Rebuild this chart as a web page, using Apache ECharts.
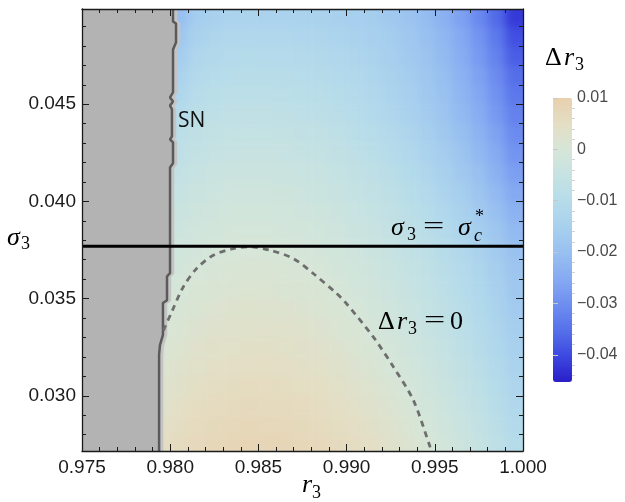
<!DOCTYPE html>
<html><head><meta charset="utf-8">
<script src="https://cdn.jsdelivr.net/npm/echarts@6/dist/echarts.min.js"></script>
<style>
html,body{margin:0;padding:0;background:#fff;}
#wrap{position:relative;width:625px;height:502px;}
#clipbox{position:absolute;left:82px;top:9px;width:441px;height:442px;overflow:hidden;}
#heat{position:absolute;left:-82px;top:-9px;width:625px;height:502px;filter:blur(5px);}
#c{position:absolute;left:0;top:0;width:625px;height:502px;}
</style>
</head><body><div id="wrap"><div id="clipbox"><div id="heat"></div></div><div id="c"></div></div>
<script>
// ---- data ----
const r3Centers = [0.9795,0.9805,0.9815,0.9825,0.9835,0.9845,0.9855,0.9865,0.9875,0.9885,0.9895,0.9905,0.9915,0.9925,0.9935,0.9945,0.9955,0.9965,0.9975,0.9985,0.9995];
const sigmaCenters = [0.0275,0.0285,0.0295,0.0305,0.0315,0.0325,0.0335,0.0345,0.0355,0.0365,0.0375,0.0385,0.0395,0.0405,0.0415,0.0425,0.0435,0.0445,0.0455,0.0465,0.0475,0.0485,0.0495];
// Δr3 in units of 1e-3, one row per sigmaCenters entry, columns follow r3Centers
const deltaMilli = [
[4.9,6.1,7.0,7.6,8.0,8.2,8.1,7.9,7.5,7.0,6.3,5.5,4.5,3.3,2.0,0.4,-1.3,-3.2,-5.3,-7.6,-10.1],
[4.1,5.3,6.2,6.8,7.2,7.4,7.3,7.1,6.7,6.2,5.5,4.7,3.7,2.5,1.1,-0.4,-2.1,-4.0,-6.1,-8.5,-11.1],
[3.3,4.5,5.4,6.0,6.4,6.6,6.5,6.3,5.9,5.4,4.7,3.8,2.8,1.7,0.3,-1.2,-2.9,-4.9,-7.0,-9.4,-12.0],
[2.5,3.7,4.6,5.2,5.6,5.8,5.7,5.5,5.1,4.6,3.9,3.0,2.0,0.9,-0.5,-2.1,-3.8,-5.7,-7.9,-10.3,-13.0],
[1.7,2.9,3.8,4.4,4.8,5.0,4.9,4.7,4.3,3.8,3.1,2.2,1.2,0.0,-1.3,-2.9,-4.6,-6.6,-8.8,-11.2,-13.9],
[0.9,2.1,3.0,3.6,4.0,4.2,4.1,3.9,3.5,3.0,2.3,1.4,0.4,-0.8,-2.1,-3.7,-5.5,-7.5,-9.7,-12.1,-14.9],
[0.1,1.3,2.2,2.8,3.2,3.4,3.3,3.1,2.7,2.2,1.5,0.6,-0.4,-1.6,-3.0,-4.5,-6.3,-8.3,-10.6,-13.1,-15.8],
[-0.7,0.5,1.4,2.0,2.4,2.6,2.5,2.3,1.9,1.4,0.7,-0.2,-1.2,-2.4,-3.8,-5.4,-7.2,-9.2,-11.5,-14.0,-16.8],
[-1.5,-0.3,0.6,1.2,1.6,1.8,1.7,1.5,1.1,0.6,-0.1,-1.0,-2.0,-3.2,-4.6,-6.2,-8.0,-10.1,-12.3,-14.9,-17.7],
[-2.3,-1.1,-0.2,0.4,0.8,1.0,0.9,0.7,0.3,-0.2,-0.9,-1.8,-2.8,-4.0,-5.4,-7.0,-8.9,-10.9,-13.2,-15.8,-18.7],
[-3.1,-1.9,-1.0,-0.4,0.0,0.2,0.1,-0.1,-0.5,-1.0,-1.7,-2.6,-3.6,-4.8,-6.2,-7.9,-9.7,-11.8,-14.1,-16.7,-19.6],
[-4.2,-2.9,-1.9,-1.2,-0.8,-0.7,-0.7,-1.0,-1.4,-1.9,-2.6,-3.5,-4.6,-5.8,-7.3,-9.0,-11.0,-13.2,-15.7,-18.4,-21.6],
[-5.2,-3.8,-2.8,-2.1,-1.7,-1.5,-1.6,-1.9,-2.2,-2.8,-3.5,-4.4,-5.5,-6.8,-8.4,-10.1,-12.2,-14.5,-17.1,-20.1,-23.4],
[-6.4,-4.9,-3.8,-3.1,-2.6,-2.5,-2.6,-2.8,-3.2,-3.8,-4.5,-5.4,-6.6,-7.9,-9.5,-11.3,-13.5,-15.9,-18.7,-21.8,-25.3],
[-7.7,-6.1,-4.9,-4.1,-3.6,-3.5,-3.6,-3.8,-4.2,-4.8,-5.5,-6.5,-7.6,-9.0,-10.7,-12.6,-14.8,-17.3,-20.2,-23.5,-27.2],
[-9.0,-7.3,-6.0,-5.2,-4.7,-4.5,-4.6,-4.9,-5.3,-5.8,-6.6,-7.6,-8.8,-10.2,-11.9,-13.8,-16.1,-18.7,-21.8,-25.2,-29.1],
[-10.4,-8.6,-7.2,-6.3,-5.8,-5.7,-5.7,-6.0,-6.4,-7.0,-7.7,-8.7,-9.9,-11.3,-13.1,-15.1,-17.4,-20.1,-23.2,-26.7,-30.7],
[-12.0,-10.0,-8.5,-7.5,-7.0,-6.8,-6.9,-7.2,-7.6,-8.2,-8.9,-9.9,-11.1,-12.6,-14.3,-16.3,-18.7,-21.5,-24.6,-28.3,-32.4],
[-18.0,-12.5,-9.8,-8.8,-8.2,-8.1,-8.1,-8.4,-8.7,-9.3,-10.0,-10.9,-12.1,-13.5,-15.2,-17.2,-19.6,-22.4,-25.7,-29.5,-33.9],
[-21.0,-14.0,-11.2,-10.1,-9.5,-9.4,-9.4,-9.6,-9.9,-10.4,-11.1,-11.9,-13.0,-14.3,-16.0,-18.0,-20.4,-23.3,-26.7,-30.7,-35.5],
[-24.0,-16.0,-12.7,-11.5,-10.9,-10.7,-10.8,-10.9,-11.2,-11.6,-12.2,-13.0,-14.0,-15.3,-16.9,-18.9,-21.4,-24.4,-28.1,-32.4,-37.6],
[-27.0,-18.0,-14.3,-13.0,-12.3,-12.1,-12.2,-12.3,-12.5,-12.9,-13.4,-14.1,-15.0,-16.2,-17.8,-19.7,-22.2,-25.4,-29.2,-33.8,-39.4],
[-30.0,-20.5,-16.0,-14.6,-13.8,-13.6,-13.7,-13.8,-13.9,-14.2,-14.6,-15.3,-16.1,-17.3,-18.9,-20.9,-23.5,-26.8,-31.0,-36.0,-42.1]
];
const r3Range = [0.975, 1.0];
const sigmaRange = [0.02716, 0.0499];
const deltaRange = [-0.0453, 0.01];
const sigmaTicks = [0.030, 0.035, 0.040, 0.045];
const sigmaMinorTicks = [0.028,0.029,0.031,0.032,0.033,0.034,0.036,0.037,0.038,0.039,0.041,0.042,0.043,0.044,0.046,0.047,0.048,0.049];
const colorTicks = [0.01, 0, -0.01, -0.02, -0.03, -0.04];
const colorMinorTicks = [0.008,0.006,0.004,0.002,-0.002,-0.004,-0.006,-0.008,-0.012,-0.014,-0.016,-0.018,-0.022,-0.024,-0.026,-0.028,-0.032,-0.034,-0.036,-0.038,-0.042,-0.044];
// saddle-node boundary
const snR = [0.98016,0.98016,0.98033,0.98033,0.98016,0.98016,0.98016,0.97999,0.98016,0.97999,0.98010,0.98010,0.97999,0.98016,0.98016,0.97999,0.97999,0.97982,0.97982,0.97959,0.97959,0.97942,0.97937,0.97937];
const snSigma = [0.04987,0.04926,0.04915,0.04818,0.04782,0.04592,0.04561,0.04535,0.04514,0.04494,0.04473,0.04335,0.04319,0.04304,0.04196,0.04175,0.03631,0.03615,0.03492,0.03477,0.03313,0.03261,0.03210,0.02716];
// Δr3 = 0 contour
const contourR = [0.97962,0.97971,0.98009,0.98074,0.98150,0.98244,0.98358,0.98452,0.98566,0.98698,0.98811,0.98944,0.98991,0.99151,0.99265,0.99378,0.99473,0.99480];
const contourSigma = [0.03335,0.03355,0.03432,0.03560,0.03655,0.03723,0.03757,0.03766,0.03749,0.03706,0.03629,0.03526,0.03483,0.03303,0.03149,0.02978,0.02738,0.02716];
const sigmaC = 0.0377;
const mapColors = ['#2a1ec8','#3c48e0','#5670ea','#6e8ef0','#86aaf2','#98c0f0','#a8d0ee','#b6dcea','#c6e2e2','#d6e6d8','#e4dec4','#e8d0ae'];

// ---- build ----
const heatData = [];
sigmaCenters.forEach((s, j) => r3Centers.forEach((r, i) => heatData.push([r, s, deltaMilli[j][i] / 1000])));
const nCols = r3Centers.length, nRows = sigmaCenters.length;
const cellW = r3Centers[1] - r3Centers[0];
const cellH = sigmaCenters[1] - sigmaCenters[0];
const snLine = snR.map((r, i) => [r, snSigma[i]]);
const contourLine = contourR.map((r, i) => [r, contourSigma[i]]);
const GRID = { left: 82, right: 102, top: 9, bottom: 51 };

// heat layer (soft-rendered underneath the main chart)
const heat = echarts.init(document.getElementById('heat'), null, { renderer: 'canvas' });
heat.setOption({
  animation: false,
  grid: GRID,
  xAxis: { type: 'value', min: r3Range[0], max: r3Range[1], show: false },
  yAxis: { type: 'value', min: sigmaRange[0], max: sigmaRange[1], show: false },
  visualMap: { show: false, type: 'continuous', min: deltaRange[0], max: deltaRange[1], dimension: 2, inRange: { color: mapColors } },
  series: [{
    type: 'custom', coordinateSystem: 'cartesian2d', clip: false, data: heatData, silent: true,
    renderItem: function (params, api) {
      const col = params.dataIndex % nCols, row = Math.floor(params.dataIndex / nCols);
      const r = api.value(0), s = api.value(1);
      const p1 = api.coord([r - cellW / 2, s + cellH / 2]);
      const p2 = api.coord([r + cellW / 2, s - cellH / 2]);
      let x0 = p1[0], x1 = p2[0] + 0.6, y0 = p1[1], y1 = p2[1] + 0.6;
      if (col === 0) x0 -= 25;
      if (col === nCols - 1) x1 += 25;
      if (row === 0) y1 += 25;
      if (row === nRows - 1) y0 -= 25;
      return { type: 'rect', shape: { x: x0, y: y0, width: x1 - x0, height: y1 - y0 }, style: { fill: api.visual('color') } };
    }
  }]
});

const AX = '#1a1a1a';
const labelFont = { fontFamily: 'Liberation Sans', fontSize: 19, color: AX };

function mt(str, x, baseline, size, italic, sx) {
  return { type: 'text', x: x, y: baseline - 0.86 * size, z: 100, scaleX: sx || 1,
    style: { text: str, fontFamily: 'Liberation Serif', fontSize: size,
      fontStyle: italic ? 'italic' : 'normal', fill: '#000', verticalAlign: 'top' } };
}

const chart = echarts.init(document.getElementById('c'), null, { renderer: 'canvas' });
chart.setOption({
  animation: false,
  backgroundColor: 'transparent',
  grid: [
    GRID,
    { left: 553, top: 98, width: 19, height: 284 }
  ],
  xAxis: [
    { type: 'value', gridIndex: 0, min: r3Range[0], max: r3Range[1], interval: 0.005, position: 'bottom', z: 10,
      axisLine: { lineStyle: { color: AX, width: 1.3 } },
      axisTick: { inside: true, length: 7, lineStyle: { color: AX, width: 1 } },
      minorTick: { show: true, splitNumber: 5, length: 4, lineStyle: { color: AX, width: 1 } },
      axisLabel: Object.assign({ margin: 7, formatter: v => v.toFixed(3) }, labelFont),
      splitLine: { show: false } },
    { type: 'value', gridIndex: 0, min: r3Range[0], max: r3Range[1], interval: 0.005, position: 'top', z: 10,
      axisLine: { lineStyle: { color: AX, width: 1.3 } },
      axisTick: { inside: true, length: 7, lineStyle: { color: AX, width: 1 } },
      minorTick: { show: true, splitNumber: 5, length: 4, lineStyle: { color: AX, width: 1 } },
      axisLabel: { show: false }, splitLine: { show: false } },
    { type: 'value', gridIndex: 1, show: false, min: 0, max: 1 }
  ],
  yAxis: [
    { type: 'value', gridIndex: 0, min: sigmaRange[0], max: sigmaRange[1], position: 'left', z: 10,
      axisLine: { show: true, lineStyle: { color: AX, width: 1.3 } },
      axisTick: { show: true, inside: true, length: 7, customValues: sigmaTicks, lineStyle: { color: AX } },
      axisLabel: Object.assign({ margin: 6, customValues: sigmaTicks, formatter: v => v.toFixed(3) }, labelFont),
      splitLine: { show: false } },
    { type: 'value', gridIndex: 0, min: sigmaRange[0], max: sigmaRange[1], position: 'left', z: 10,
      axisLine: { show: false },
      axisTick: { show: true, inside: true, length: 4, customValues: sigmaMinorTicks, lineStyle: { color: AX } },
      axisLabel: { show: false }, splitLine: { show: false } },
    { type: 'value', gridIndex: 0, min: sigmaRange[0], max: sigmaRange[1], position: 'right', z: 10,
      axisLine: { show: true, lineStyle: { color: AX, width: 1.3 } },
      axisTick: { show: true, inside: true, length: 7, customValues: sigmaTicks, lineStyle: { color: AX } },
      axisLabel: { show: false }, splitLine: { show: false } },
    { type: 'value', gridIndex: 0, min: sigmaRange[0], max: sigmaRange[1], position: 'right', z: 10,
      axisLine: { show: false },
      axisTick: { show: true, inside: true, length: 4, customValues: sigmaMinorTicks, lineStyle: { color: AX } },
      axisLabel: { show: false }, splitLine: { show: false } },
    { type: 'value', gridIndex: 1, min: deltaRange[0], max: deltaRange[1], position: 'right', z: 10,
      axisLine: { show: false },
      axisTick: { show: true, length: 5, customValues: colorTicks, lineStyle: { color: '#c8c8c8' } },
      axisLabel: { customValues: colorTicks, margin: 5, fontFamily: 'Liberation Sans', fontSize: 16, color: '#4a4a4a',
        formatter: v => (Math.abs(v) < 1e-9 ? '0' : (v < 0 ? '\u2212' : '') + Math.abs(v).toFixed(2)) },
      splitLine: { show: false } },
    { type: 'value', gridIndex: 1, min: deltaRange[0], max: deltaRange[1], position: 'right', z: 10,
      axisLine: { show: false },
      axisTick: { show: true, length: 3, customValues: colorMinorTicks, lineStyle: { color: '#d4d4d4' } },
      axisLabel: { show: false }, splitLine: { show: false } }
  ],
  visualMap: {
    type: 'continuous', min: deltaRange[0], max: deltaRange[1], dimension: 2, seriesIndex: [],
    inRange: { color: mapColors }, calculable: false, hoverLink: false,
    left: 553, top: 98, itemWidth: 19, itemHeight: 284, padding: 0, text: null, show: true
  },
  series: [
    { type: 'custom', coordinateSystem: 'cartesian2d', xAxisIndex: 0, yAxisIndex: 0, clip: true, z: 2,
      data: [[r3Range[0], snSigma[0]]], silent: true,
      renderItem: function (params, api) {
        const pts = snLine.map(p => api.coord(p));
        pts.push(api.coord([r3Range[0], snSigma[snSigma.length - 1]]));
        pts.push(api.coord([r3Range[0], snSigma[0]]));
        return { type: 'polygon', shape: { points: pts }, style: { fill: '#b3b3b3' } };
      } },
    { type: 'custom', coordinateSystem: 'cartesian2d', xAxisIndex: 0, yAxisIndex: 0, clip: true, z: 3,
      data: [[r3Range[0], snSigma[0]]], silent: true,
      renderItem: function (params, api) {
        const pts = snLine.map(p => { const c = api.coord(p); return [c[0] + 2.5, c[1]]; });
        return { type: 'polyline', shape: { points: pts }, style: { stroke: '#c4c4c4', lineWidth: 3.5, fill: null } };
      } },
    { type: 'line', xAxisIndex: 0, yAxisIndex: 0, data: snLine, showSymbol: false, z: 4, silent: true,
      lineStyle: { color: '#5a5a5a', width: 2.5 } },
    { type: 'line', xAxisIndex: 0, yAxisIndex: 0, data: contourLine, showSymbol: false, smooth: 0.3, z: 4, silent: true,
      lineStyle: { color: '#6e6e6e', width: 2.8, type: [6, 5] } },
    { type: 'line', xAxisIndex: 0, yAxisIndex: 0, data: [[r3Range[0], sigmaC], [r3Range[1], sigmaC]], showSymbol: false, z: 5, silent: true,
      lineStyle: { color: '#000', width: 3 } }
  ],
  graphic: [
    mt('\u03c3', 7, 248, 26, true), mt('3', 21, 251, 18, false),
    mt('r', 302, 495, 26, true), mt('3', 312, 500, 18, false),
    mt('\u03c3', 391, 238, 26, true), mt('3', 407, 242, 18, false), mt('=', 423, 237, 26, false, 1.45),
    mt('\u03c3', 458, 238, 26, true), mt('c', 474, 243, 18, true), mt('*', 475, 224, 18, false),
    mt('\u0394', 378, 332, 26, false), mt('r', 397, 332, 26, true), mt('3', 408, 336, 18, false),
    mt('=', 424, 331, 26, false, 1.45), mt('0', 450, 332, 26, false),
    mt('\u0394', 545, 68, 26, false), mt('r', 564, 68, 26, true), mt('3', 575, 72, 18, false),
    { type: 'text', x: 178, y: 111, z: 100, style: { text: 'SN', fontFamily: 'Open Sans', fontSize: 21, fill: '#111', verticalAlign: 'top' } }
  ]
});
</script>
</body></html>
